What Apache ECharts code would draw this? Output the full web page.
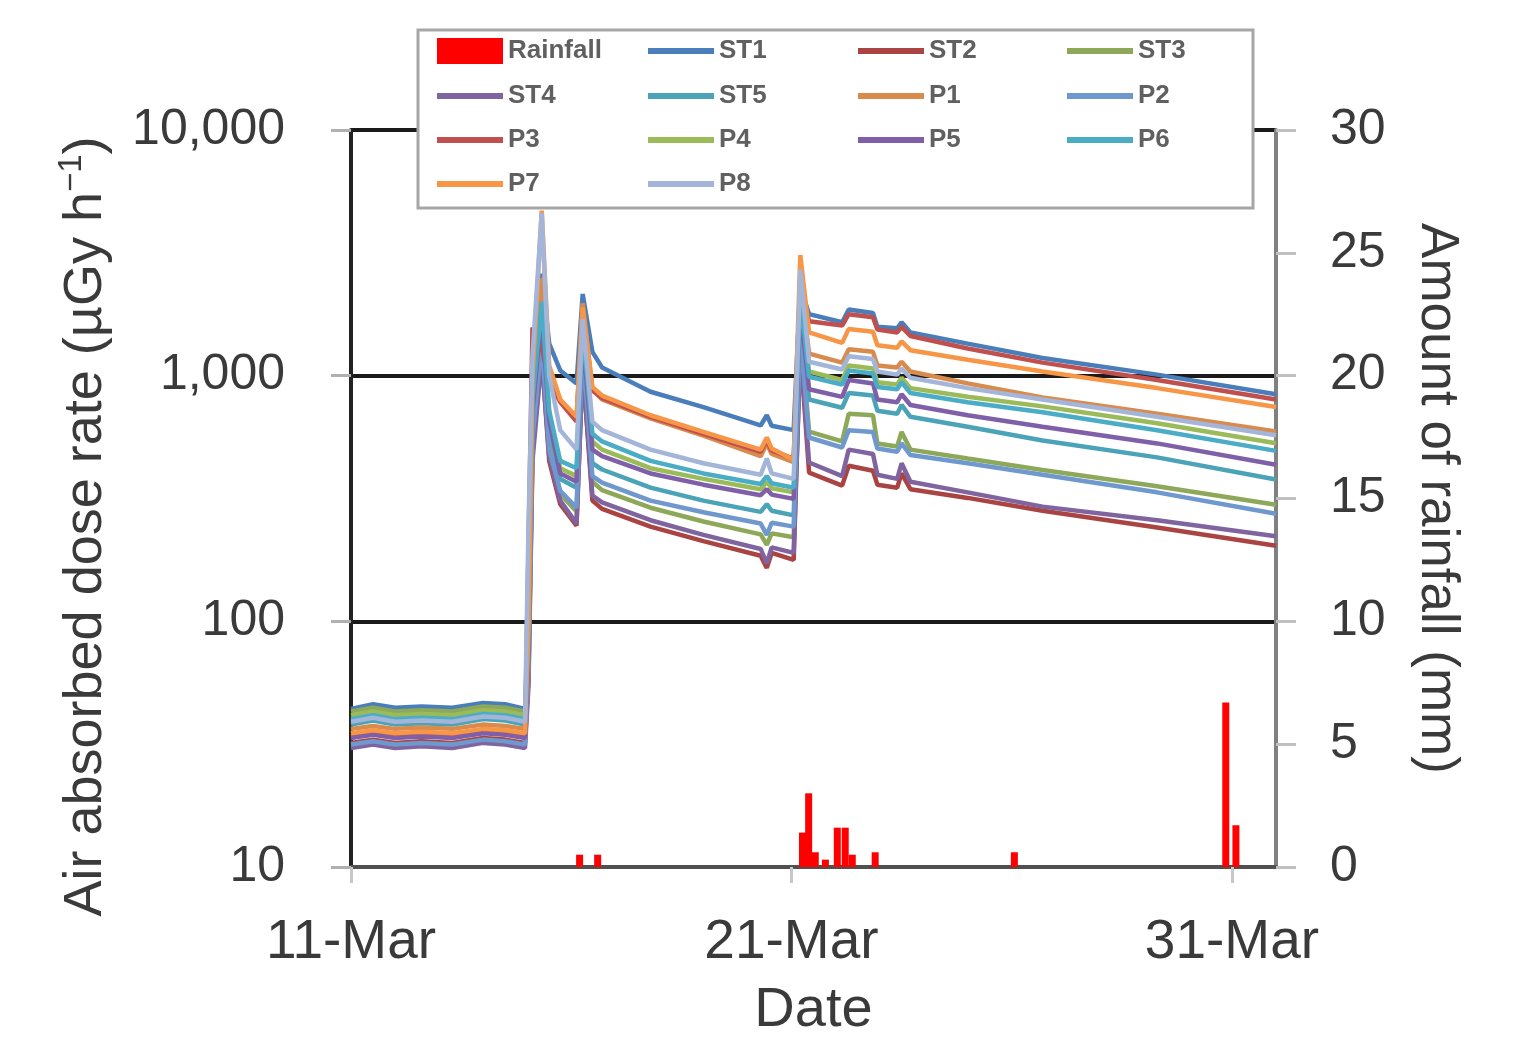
<!DOCTYPE html>
<html>
<head>
<meta charset="utf-8">
<script src="https://cdn.jsdelivr.net/npm/echarts@6/dist/echarts.min.js"></script>
<style>
  html, body { margin: 0; background: #fff; }
  #chart { width: 1531px; height: 1044px; }
</style>
</head>
<body>
<div id="chart"></div>
<script>
// time in days since 11-Mar 00:00
const times = [0, 0.5, 1.0, 1.6, 2.3, 3.0, 3.5, 3.95, 4.03, 4.12, 4.33, 4.5, 4.75, 5.12, 5.26, 5.48, 5.7, 6.8, 8.0, 9.3,
  9.44, 9.55, 10.05, 10.2, 10.4, 11.15, 11.3, 11.85, 11.95, 12.4, 12.5, 12.7, 14.0, 15.7, 18.3, 21.0];

// air absorbed dose rate, µGy/h
const ST1 = [44, 46, 44.5, 45, 44.5, 46.5, 46, 44, 90, 900, 2600, 1350, 1050, 930, 2150, 1250, 1080, 860, 745, 627, 690, 625, 600, 2300, 1780, 1650, 1860, 1800, 1580, 1560, 1650, 1500, 1350, 1180, 1010, 840];
const ST2 = [32, 33, 32, 32.5, 32, 33.5, 33, 32, 60, 500, 1200, 450, 300, 245, 1100, 310, 287, 243, 212, 185, 165, 190, 178, 1300, 403, 357, 430, 410, 360, 350, 400, 345, 318, 282, 241, 203];
const ST3 = [43, 44.5, 43, 43.5, 43, 45, 44.5, 43, 70, 600, 1500, 550, 330, 280, 1300, 370, 342, 290, 255, 226, 205, 228, 220, 1600, 592, 540, 700, 690, 530, 515, 590, 500, 460, 413, 355, 298];
const ST4 = [30.5, 31.5, 30.5, 31, 30.5, 32, 31.5, 30.5, 55, 450, 1200, 470, 310, 250, 1100, 325, 305, 258, 225, 197, 172, 200, 190, 1300, 443, 390, 500, 480, 395, 380, 440, 370, 335, 293, 258, 222];
const ST5 = [38, 39.5, 38, 38.5, 38, 40, 39.5, 38, 75, 700, 1800, 650, 380, 350, 1400, 440, 415, 350, 310, 279, 300, 282, 270, 1800, 800, 740, 850, 830, 720, 700, 760, 680, 620, 545, 465, 378];
const P1 = [36.5, 37.5, 36.5, 37, 36.5, 38, 37.5, 36.5, 85, 850, 2500, 1000, 790, 660, 1970, 880, 800, 670, 570, 470, 530, 480, 445, 2400, 1230, 1130, 1280, 1250, 1100, 1080, 1140, 1040, 930, 815, 700, 593];
const P2 = [31.5, 32.5, 31.5, 32, 31.5, 33, 32.5, 31.5, 65, 550, 1400, 500, 340, 290, 1300, 390, 367, 310, 278, 250, 225, 252, 243, 1500, 560, 510, 600, 590, 505, 490, 530, 475, 440, 395, 335, 274];
const P3 = [34, 35, 34, 34.5, 34, 35.5, 35, 34, 200, 1570, 1300, 950, 780, 650, 1800, 870, 810, 680, 580, 490, 545, 495, 460, 2300, 1665, 1600, 1780, 1730, 1540, 1500, 1580, 1450, 1290, 1130, 960, 800];
const P4 = [41.5, 43, 41.5, 42, 41.5, 43.5, 43, 41.5, 80, 750, 1900, 700, 420, 390, 1500, 540, 500, 420, 380, 345, 370, 348, 335, 2000, 1040, 960, 1100, 1070, 940, 920, 980, 890, 820, 750, 640, 531];
const P5 = [33.5, 34.5, 33.5, 34, 33.5, 35, 34.5, 33.5, 75, 720, 1800, 660, 400, 370, 1450, 500, 470, 400, 360, 326, 345, 328, 315, 1900, 880, 820, 960, 930, 800, 780, 840, 760, 690, 620, 530, 434];
const P6 = [40, 41.5, 40, 40.5, 40, 42, 41.5, 40, 85, 800, 2000, 720, 450, 420, 1550, 580, 540, 450, 400, 362, 390, 365, 350, 2100, 990, 920, 1050, 1020, 900, 880, 940, 850, 780, 710, 600, 494];
const P7 = [35, 36, 35, 35.5, 35, 36.5, 36, 35, 100, 1000, 4700, 1100, 800, 680, 1900, 900, 830, 690, 590, 500, 560, 505, 455, 3100, 1500, 1360, 1550, 1510, 1330, 1300, 1380, 1270, 1160, 1040, 890, 746];
const P8 = [39, 40.5, 39, 39.5, 39, 41, 40.5, 39, 250, 1200, 4600, 1000, 600, 500, 1700, 650, 600, 500, 440, 395, 460, 400, 380, 2700, 1140, 1060, 1200, 1170, 1040, 1010, 1070, 980, 890, 800, 680, 572];

// rainfall, mm
const rainTimes = [5.19, 5.60, 10.25, 10.39, 10.54, 10.77, 11.04, 11.22, 11.38, 11.90, 15.06, 19.86, 20.09];
const rainfall = [0.5, 0.5, 1.4, 3.0, 0.6, 0.3, 1.6, 1.6, 0.5, 0.6, 0.6, 6.7, 1.7];

const dateTicks = [0, 10, 20];
const dateLabels = ['11-Mar', '21-Mar', '31-Mar'];

const stations = [
  ['ST1', ST1, '#4A7EBB'], ['ST2', ST2, '#A94442'], ['ST3', ST3, '#8EA85A'], ['ST4', ST4, '#7F64A0'],
  ['ST5', ST5, '#4BA3B8'], ['P1', P1, '#D98B4E'], ['P2', P2, '#6F98CE'], ['P3', P3, '#C0504D'],
  ['P4', P4, '#9BBB59'], ['P5', P5, '#7F5FA8'], ['P6', P6, '#4BACC6'], ['P7', P7, '#F79646'],
  ['P8', P8, '#A3B5D8'],
];

const chart = echarts.init(document.getElementById('chart'), null, { renderer: 'canvas' });

const textColor = '#3a3a3a';
const legendNames = ['Rainfall'].concat(stations.map(s => s[0]));
const colX = [437, 648, 858, 1067];
const rowY = [51, 96, 140, 184];

chart.setOption({
  animation: false,
  backgroundColor: '#fff',
  textStyle: { fontFamily: 'Liberation Sans, Arial, sans-serif' },
  grid: { left: 351, width: 925, top: 130, height: 753 },
  graphic: [{
    type: 'rect', z: 10,
    shape: { x: 418, y: 30, width: 835, height: 178 },
    style: { fill: '#fff', stroke: '#A6A6A6', lineWidth: 3 },
  }],
  legend: legendNames.map((name, i) => {
    const h = name === 'Rainfall' ? 26 : 6;
    return {
      data: [name], z: 20, padding: 0, selectedMode: false,
      left: colX[i % 4], top: rowY[Math.floor(i / 4)] - 14,
      icon: 'rect', itemWidth: 66, itemHeight: h,
      textStyle: { fontSize: 26, fontWeight: 'bold', color: '#606060', lineHeight: 28 },
    };
  }),
  xAxis: {
    type: 'value', min: 0, max: 21,
    name: 'Date', nameLocation: 'middle', nameGap: 116,
    nameTextStyle: { fontSize: 56, color: textColor },
    axisLine: { lineStyle: { color: '#505050', width: 4 } },
    axisTick: { customValues: dateTicks, length: 16, lineStyle: { color: '#c8c8c8', width: 3 } },
    axisLabel: {
      customValues: dateTicks, margin: 48, fontSize: 55, color: textColor,
      formatter: v => dateLabels[dateTicks.indexOf(v)] || '',
    },
    splitLine: { show: false },
  },
  yAxis: [{
    type: 'log', logBase: 10, min: 10, max: 10000,
    name: '{a|Air absorbed dose rate (µGy h}{s|−1}{a|)}', nameLocation: 'middle', nameGap: 234,
    nameTextStyle: {
      color: textColor, padding: [0, 56, 0, 0],
      rich: {
        a: { fontSize: 54, lineHeight: 62, color: textColor },
        s: { fontSize: 33, lineHeight: 40, verticalAlign: 'top', color: textColor },
      },
    },
    axisLine: { show: true, lineStyle: { color: '#222', width: 4 } },
    axisTick: { show: true, length: 20, lineStyle: { color: '#b0b0b0', width: 3 } },
    axisLabel: { margin: 66, fontSize: 50, color: textColor, formatter: v => v.toLocaleString('en-US') },
    splitLine: { show: true, lineStyle: { color: '#1a1a1a', width: 4 } },
    minorTick: { show: false },
  }, {
    type: 'value', min: 0, max: 30, interval: 5,
    name: 'Amount of rainfall (mm)', nameLocation: 'middle', nameGap: 134, nameRotate: -90,
    nameTextStyle: { fontSize: 53, color: textColor },
    axisLine: { show: true, lineStyle: { color: '#808080', width: 4 } },
    axisTick: { show: true, length: 20, lineStyle: { color: '#c0c0c0', width: 3 } },
    axisLabel: { margin: 54, fontSize: 50, color: textColor },
    splitLine: { show: false },
  }],
  series: [{
    name: 'Rainfall', type: 'bar', yAxisIndex: 1, barWidth: 7,
    itemStyle: { color: '#FF0000' },
    data: rainTimes.map((t, i) => [t, rainfall[i]]),
  }].concat(stations.map(([name, vals, color]) => ({
    name, type: 'line', symbol: 'none',
    lineStyle: { color, width: 4.5 },
    itemStyle: { color },
    data: times.map((t, i) => [t, vals[i]]),
  }))),
});
</script>
</body>
</html>
